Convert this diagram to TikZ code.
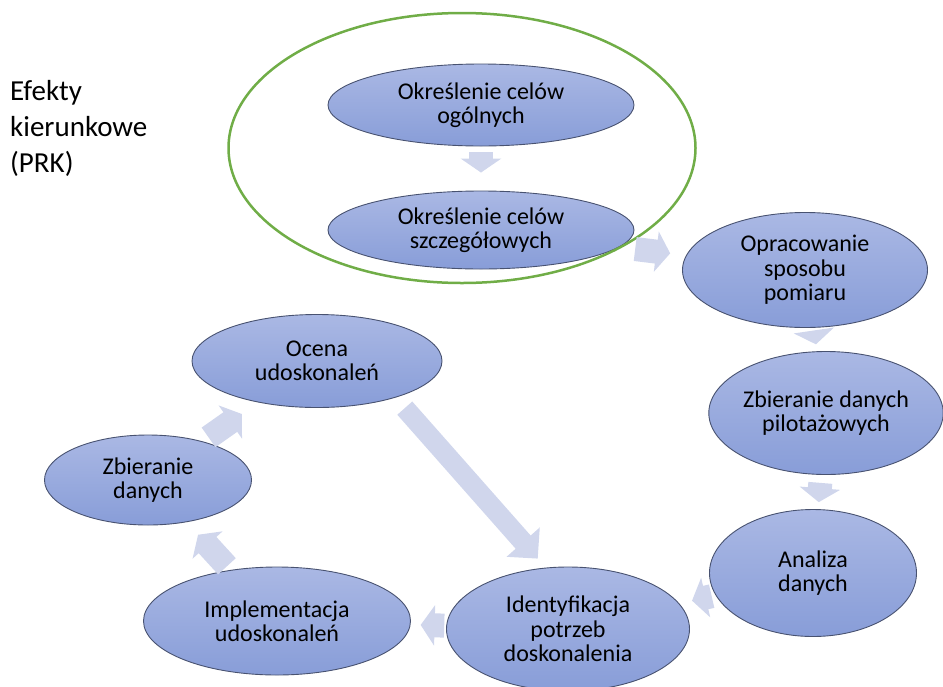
\documentclass[tikz,border=0pt]{standalone}
\usepackage{fontspec}
\setmainfont{Carlito}
\usepackage{tikz}
\usetikzlibrary{arrows.meta,positioning,shapes.geometric}
\definecolor{st}{RGB}{170,184,228}
\definecolor{sb}{RGB}{136,157,216}
\definecolor{sd}{RGB}{72,82,112}
\definecolor{fl}{RGB}{208,214,236}
\definecolor{gr}{RGB}{112,173,71}

\begin{document}
\begin{tikzpicture}[
      x=1pt, y=-1pt,
      font=\fontsize{24}{24.5}\selectfont,
      stage/.style={ellipse, draw=sd, line width=0.9pt, top color=st, bottom color=sb, inner sep=0pt, align=center},
      flow/.style={draw=fl, line width=24pt, -{Triangle[length=14pt,width=40pt]}},
      bigflow/.style={draw=fl, line width=20pt, -{Triangle[length=22pt,width=43pt]}},
]
\useasboundingbox (0,0) rectangle (943,686);
\clip (0,0) rectangle (943,686);

\node[anchor=base west, inner sep=0pt, align=left, font=\fontsize{29}{36}\selectfont] (prk) at (10,172) {Efekty\\kierunkowe\\(PRK)};

\node[stage, minimum width=306pt, minimum height=82pt] (cele_og) at (481,105) {Określenie celów\\ogólnych};
\node[stage, minimum width=306pt, minimum height=78pt] (cele_szcz) at (481,230) {Określenie celów\\szczegółowych};
\node[draw=gr, line width=2.5pt, ellipse, minimum width=467pt, minimum height=270pt] (grupa) at (462,148) {};

\node[stage, minimum width=245pt, minimum height=115pt] (pomiar) at (805,270) {Opracowanie\\sposobu\\pomiaru};
\node[stage, minimum width=232pt, minimum height=123pt] (pilot) at (826,413) {Zbieranie danych\\pilotażowych};
\node[stage, minimum width=207pt, minimum height=127pt] (analiza) at (813,573) {Analiza\\danych};
\node[stage, minimum width=243pt, minimum height=124pt] (ident) at (568,629) {Identyfikacja\\potrzeb\\doskonalenia};
\node[stage, minimum width=267pt, minimum height=108pt] (impl) at (277,621) {Implementacja\\udoskonaleń};
\node[stage, minimum width=207pt, minimum height=90pt] (zbier) at (148,480) {Zbieranie\\danych};
\node[stage, minimum width=250pt, minimum height=93pt] (ocena) at (317,361) {Ocena\\udoskonaleń};

\draw[flow, shorten <=6pt, shorten >=18pt] (cele_og) -- (cele_szcz);
\draw[flow, shorten <=16pt, shorten >=16pt] (cele_szcz) -- (pomiar);
\draw[flow, shorten <=5pt, shorten >=7pt] (pomiar) -- (pilot);
\draw[flow, shorten <=8pt, shorten >=7pt] (pilot) -- (analiza);
\draw[flow, shorten <=4pt, shorten >=13pt] (analiza) -- (ident);
\draw[flow, shorten <=2pt, shorten >=10pt] (ident) -- (impl);
\draw[flow, shorten <=5pt, shorten >=17pt] (impl) -- (zbier);
\draw[flow, shorten <=7pt, shorten >=20pt] (zbier) -- (ocena);
\draw[bigflow, shorten <=14pt, shorten >=12pt] (ocena.-25) -- (ident.110);

\end{tikzpicture}
\end{document}
